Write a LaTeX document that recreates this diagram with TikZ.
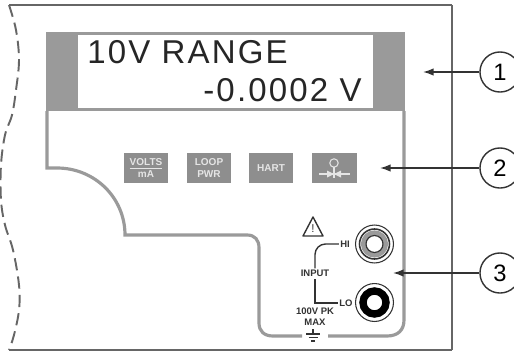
\documentclass[tikz,border=0pt]{standalone}
\usepackage{fontspec}
\setmainfont{Liberation Sans}
\usetikzlibrary{arrows.meta,calc,positioning}
\definecolor{panelgray}{HTML}{9A9A9A}
\definecolor{keygray}{HTML}{8E8E8E}
\definecolor{framegray}{HTML}{666666}
\definecolor{inkgray}{HTML}{333333}
\tikzset{>={Latex[length=6pt,width=4.2pt]},
  every node/.style={inner sep=0pt},
  frameline/.style={draw=framegray,line width=1.1pt},
  panelline/.style={draw=panelgray,line width=1.8pt},
  leader/.style={<-,draw=inkgray,line width=.8pt},
  callout/.style={circle,draw=inkgray,line width=.8pt,fill=white,minimum size=22.8pt,font=\fontsize{13.5}{13.5}\selectfont},
  keybox/.style={fill=keygray,minimum width=25.2pt,minimum height=17pt,align=center,text=white!90!black,font=\fontsize{5.7}{6.4}\selectfont\bfseries},
  lcdtext/.style={text=black!85,font=\fontsize{18.8}{20}\selectfont\addfontfeature{LetterSpace=6.5}},
  paneltext/.style={text=inkgray,align=center,font=\fontsize{5.4}{6.2}\selectfont\bfseries},
  wire/.style={draw=inkgray,line width=.8pt}}
\begin{document}
\begin{tikzpicture}[x=.02cm,y=-.02cm]
\useasboundingbox (0,0) rectangle (514,352);
\fill[white] (0,0) rectangle (514,352);
% case outline
\draw[frameline] (9,5)--(452,5) (9,350)--(452,350) (452,5)--(452,350);
\draw[frameline,dash pattern=on 7pt off 3.5pt] plot[smooth,tension=.6] coordinates {(9,5) (16,30) (19,60) (16,90) (12,115) (5,135) (1,165) (1,200) (5,225) (13,250) (19,285) (19,310) (14,335) (9,350)};
% display and panel
\fill[panelgray] (46,32) rectangle (405,111);
\fill[white] (78,35) rectangle (373,108);
\draw[panelline] (47,111)--(47,168)--(57,168) .. controls (95,168) and (125,198) .. (125,235)--(247,235) .. controls (255,235) and (259,240) .. (259,248)--(259,323) .. controls (259,331) and (264,336) .. (273,336)--(302,336);
\draw[panelline] (328,336)--(387,336) .. controls (398,336) and (404,330) .. (404,320)--(404,111);
\node[lcdtext,anchor=base west] (lcdtop) at (87,63) {10V RANGE};
\node[lcdtext,anchor=base east] (lcdbot) at (362,101) {-0.0002 V};
% keys
\node[keybox] (keyvolts) at (146,168) {\underline{VOLTS}\\mA};
\node[keybox] (keyloop) at (209,168) {LOOP\\PWR};
\node[keybox] (keyhart) at (271,168) {HART};
\node[keybox] (keyvalve) at (334.5,168) {};
\begin{scope}[draw=white!90!black,fill=white!90!black,line width=.6pt]
\draw (334,163) circle (4.2);
\draw (334,167.2)--(334,178) (319,174)--(350,174);
\fill (334,174)--(327,170.5)--(327,177.5)--cycle (334,174)--(341,170.5)--(341,177.5)--cycle;
\end{scope}
% input jacks
\node[circle,draw=inkgray,line width=.6pt,minimum size=21.6pt] (jackhi) at (374.5,244) {};
\draw[inkgray,line width=.9pt] (374.5,244) circle (15);
\draw[draw=panelgray,line width=2.6pt] (374.5,244) circle (11.3);
\draw[inkgray,line width=.7pt] (374.5,244) circle (8.5);
\node[circle,draw=inkgray,line width=.6pt,minimum size=21.6pt] (jacklo) at (374.5,302.5) {};
\draw[black,line width=4.2pt] (374.5,302.5) circle (11.5);
% input labels
\node[paneltext] (lblhi) at (345,244) {HI};
\node[paneltext] (lbllo) at (346,303) {LO};
\node[paneltext,inner sep=1.5pt] (lblinput) at (315,273) {INPUT};
\node[paneltext,anchor=north] (lblmax) at (315,308) {100V PK\\MAX};
\draw[wire,rounded corners=6pt,shorten >=-1pt] (lblhi.west)++(-1,0)-|(lblinput);
\draw[wire] (lblinput)|-($(lbllo.west)+(-1,0)$);
\draw[inkgray,line width=.8pt,line join=round] (313,217)--(303,236)--(323,236)--cycle;
\node[text=inkgray,font=\fontsize{6.5}{6.5}\selectfont] (lblwarn) at (313,229) {!};
\draw[inkgray,line width=.8pt] (313,329)--(313,334) (306,334)--(320,334) (308.5,337.5)--(317.5,337.5) (311,341)--(315,341);
% callouts
\coordinate (tipone) at (423,72);
\coordinate (tiptwo) at (380,168);
\coordinate (tipthree) at (393,273);
\node[callout] (callone) at (500,72) {1};
\node[callout] (calltwo) at (500,168) {2};
\node[callout] (callthree) at (500,273) {3};
\draw[leader] (tipone)--(callone);
\draw[leader] (tiptwo)--(calltwo);
\draw[leader] (tipthree)--(callthree);
\end{tikzpicture}
\end{document}
